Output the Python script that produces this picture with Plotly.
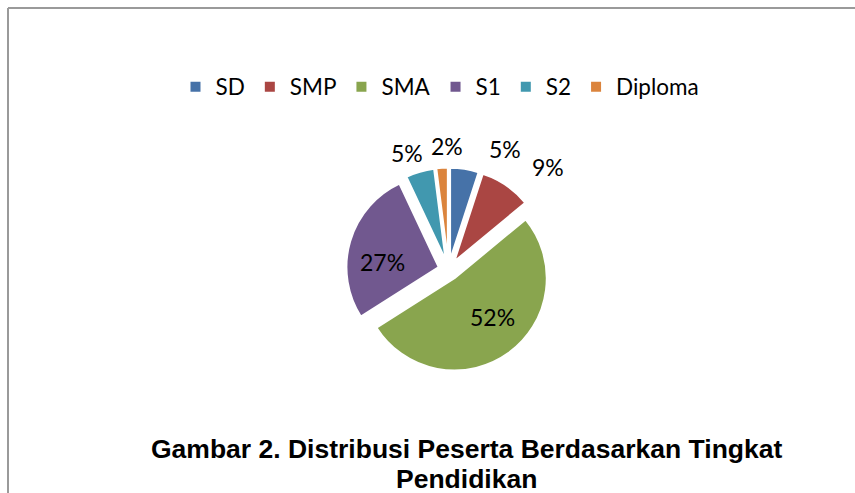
import math
import plotly.graph_objects as go

categories = ["SD", "SMP", "SMA", "S1", "S2", "Diploma"]
values = [5, 9, 52, 27, 5, 2]
colors = ["#4672A8", "#AA4643", "#89A54E", "#71588F", "#4198AF", "#DB843D"]
caption_line1 = "Gambar 2. Distribusi Peserta Berdasarkan Tingkat"
caption_line2 = "Pendidikan"

# ---- layout constants (pixels) ----
W, H = 855, 493
PULL = 0.11
DOM_X = [0.4047, 0.6444]
DOM_Y = [0.2444, 0.6602]
# label placement (Excel-like): angular nudge (deg) and radius factor from slice apex
label_nudge = [17.3, 10.5, -8.8, -10.9, -3.4, 3.0]
label_rfac = [1.336, 1.442, 0.588, 0.610, 1.236, 1.232]
LABEL_SIZE = 23

fig = go.Figure()
fig.add_trace(go.Pie(
    labels=categories,
    values=values,
    sort=False,
    direction="clockwise",
    rotation=0,
    pull=[PULL] * len(values),
    marker=dict(colors=colors, line=dict(color="white", width=2)),
    textinfo="none",
    hoverinfo="label+percent",
    domain=dict(x=DOM_X, y=DOM_Y),
    showlegend=True,
))

# geometry that plotly uses for the pie (center of domain, radius shrunk by pull)
cx = (DOM_X[0] + DOM_X[1]) / 2 * W
cy = (1 - (DOM_Y[0] + DOM_Y[1]) / 2) * H
box = min((DOM_X[1] - DOM_X[0]) * W, (DOM_Y[1] - DOM_Y[0]) * H)
R = box / 2 / (1 + PULL)
total = sum(values)

annotations = []
cum = 0.0
for i, v in enumerate(values):
    a0 = cum / total * 360
    cum += v
    a1 = cum / total * 360
    mid = (a0 + a1) / 2
    ax = cx + PULL * R * math.sin(math.radians(mid))
    ay = cy - PULL * R * math.cos(math.radians(mid))
    ang = math.radians(mid + label_nudge[i])
    lx = ax + label_rfac[i] * R * math.sin(ang)
    ly = ay - label_rfac[i] * R * math.cos(ang)
    annotations.append(dict(
        text=f"{round(v / total * 100)}%", xref="paper", yref="paper",
        x=lx / W, y=1 - ly / H, xanchor="center", yanchor="middle",
        showarrow=False,
        font=dict(family="Lato", size=LABEL_SIZE, color="black")))

annotations += [
    dict(text="<b>" + caption_line1 + "</b>", xref="paper", yref="paper",
         x=466.5 / W, y=1 - 449 / H, xanchor="center", yanchor="middle",
         showarrow=False,
         font=dict(family="Liberation Sans", size=26.5, color="black")),
    dict(text="<b>" + caption_line2 + "</b>", xref="paper", yref="paper",
         x=466.5 / W, y=1 - 479 / H, xanchor="center", yanchor="middle",
         showarrow=False,
         font=dict(family="Liberation Sans", size=26.5, color="black")),
]

fig.update_layout(
    width=W, height=H,
    margin=dict(l=0, r=0, t=0, b=0),
    paper_bgcolor="white",
    plot_bgcolor="white",
    legend=dict(
        orientation="h",
        x=440 / W, xanchor="center",
        y=1 - 87 / H, yanchor="middle",
        font=dict(family="Lato", size=22.5, color="black"),
        itemwidth=30,
        traceorder="normal",
    ),
    shapes=[
        dict(type="line", xref="paper", yref="paper",
             x0=8 / W, x1=1.01, y0=1 - 8 / H, y1=1 - 8 / H,
             line=dict(color="#9a9a9a", width=2)),
        dict(type="line", xref="paper", yref="paper",
             x0=8 / W, x1=8 / W, y0=-0.01, y1=1 - 8 / H,
             line=dict(color="#9a9a9a", width=2)),
    ],
    annotations=annotations,
)

fig.write_html("out.html",
               config={"displayModeBar": False},
               post_script="document.body.style.margin='0';document.body.style.padding='0';")
